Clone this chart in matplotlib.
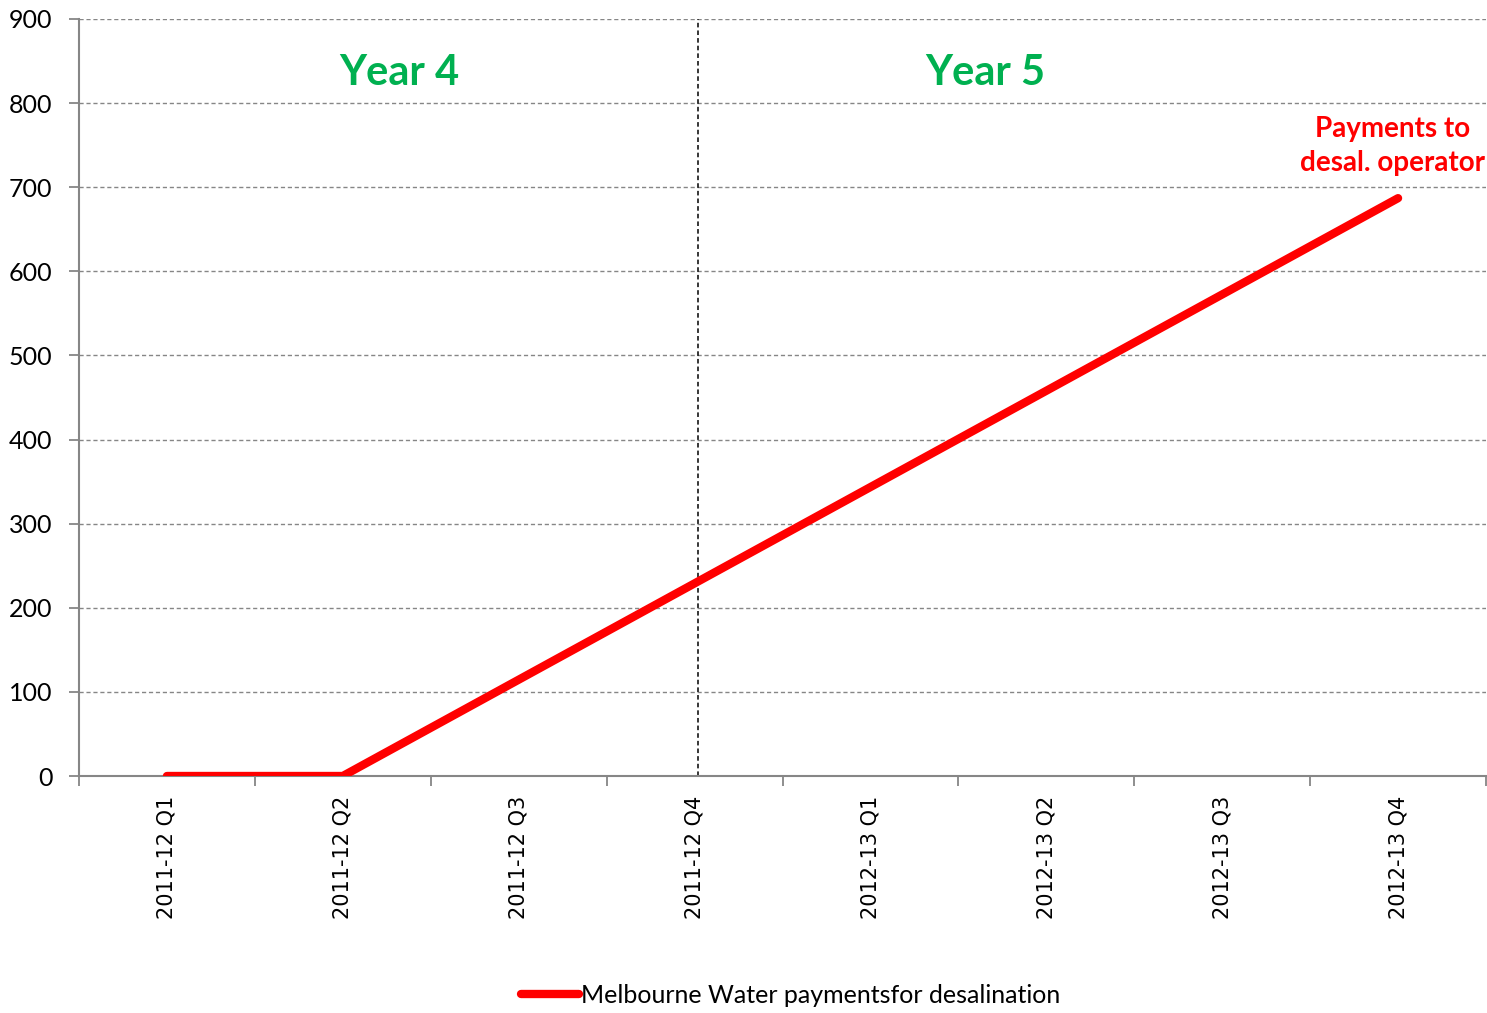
import matplotlib
matplotlib.use("Agg")
import matplotlib.pyplot as plt
import numpy as np

quarters = ["2011-12 Q1", "2011-12 Q2", "2011-12 Q3", "2011-12 Q4",
            "2012-13 Q1", "2012-13 Q2", "2012-13 Q3", "2012-13 Q4"]
payments = [0, 0, 114.5, 229, 343.5, 458, 572.5, 687]
series_name = "Melbourne Water paymentsfor desalination"

grey = "#868686"
x = np.arange(len(quarters))

fig = plt.figure(figsize=(14.87, 10.13), dpi=100)
ax = fig.add_axes([79 / 1487, 1 - 776 / 1013, (1486 - 79) / 1487, (776 - 19) / 1013])

ax.plot(x, payments, color="#FF0000", lw=6, solid_capstyle="round",
        solid_joinstyle="round", label=series_name, zorder=3)

ax.set_xlim(-0.5, len(quarters) - 0.5)
ax.set_ylim(0, 900)
ax.set_yticks(np.arange(0, 901, 100))
ax.yaxis.grid(True, color=grey, ls=(0, (3, 2)), lw=1)
ax.set_axisbelow(True)

# category labels in the middle, tick marks on the boundaries
ax.set_xticks(x)
ax.set_xticklabels(quarters, rotation=90, fontsize=15, family="DejaVu Sans")
ax.tick_params(axis="x", length=0, pad=14)
ax.set_xticks(np.arange(-0.5, len(quarters)), minor=True)
ax.tick_params(axis="x", which="minor", length=7, color=grey, width=1.3)
ax.tick_params(axis="y", length=7, color=grey, width=1.3, labelsize=18, pad=12)
for lab in ax.get_yticklabels():
    lab.set_family("Lato")

for s in ["top", "right"]:
    ax.spines[s].set_visible(False)
for s in ["left", "bottom"]:
    ax.spines[s].set_color(grey)
    ax.spines[s].set_linewidth(1.5)

ax.axvline(3.02, color="black", ls=(0, (3, 2)), lw=1.1)

ax.text(1.32, 836, "Year 4", color="#00B050", fontsize=30, fontweight="bold",
        family="Lato", ha="center", va="center")
ax.text(4.65, 836, "Year 5", color="#00B050", fontsize=30, fontweight="bold",
        family="Lato", ha="center", va="center")
ax.text(6.97, 749, "Payments to\ndesal. operator", color="#FF0000", fontsize=20,
        fontweight="bold", family="Lato", ha="center", va="center", linespacing=1.4)

fig.legend(loc="lower center", bbox_to_anchor=(0.532, -0.016), frameon=False,
           prop={"family": "Lato", "size": 18}, handlelength=2.3, handletextpad=0.1)

fig.savefig("out.png", dpi=100)
